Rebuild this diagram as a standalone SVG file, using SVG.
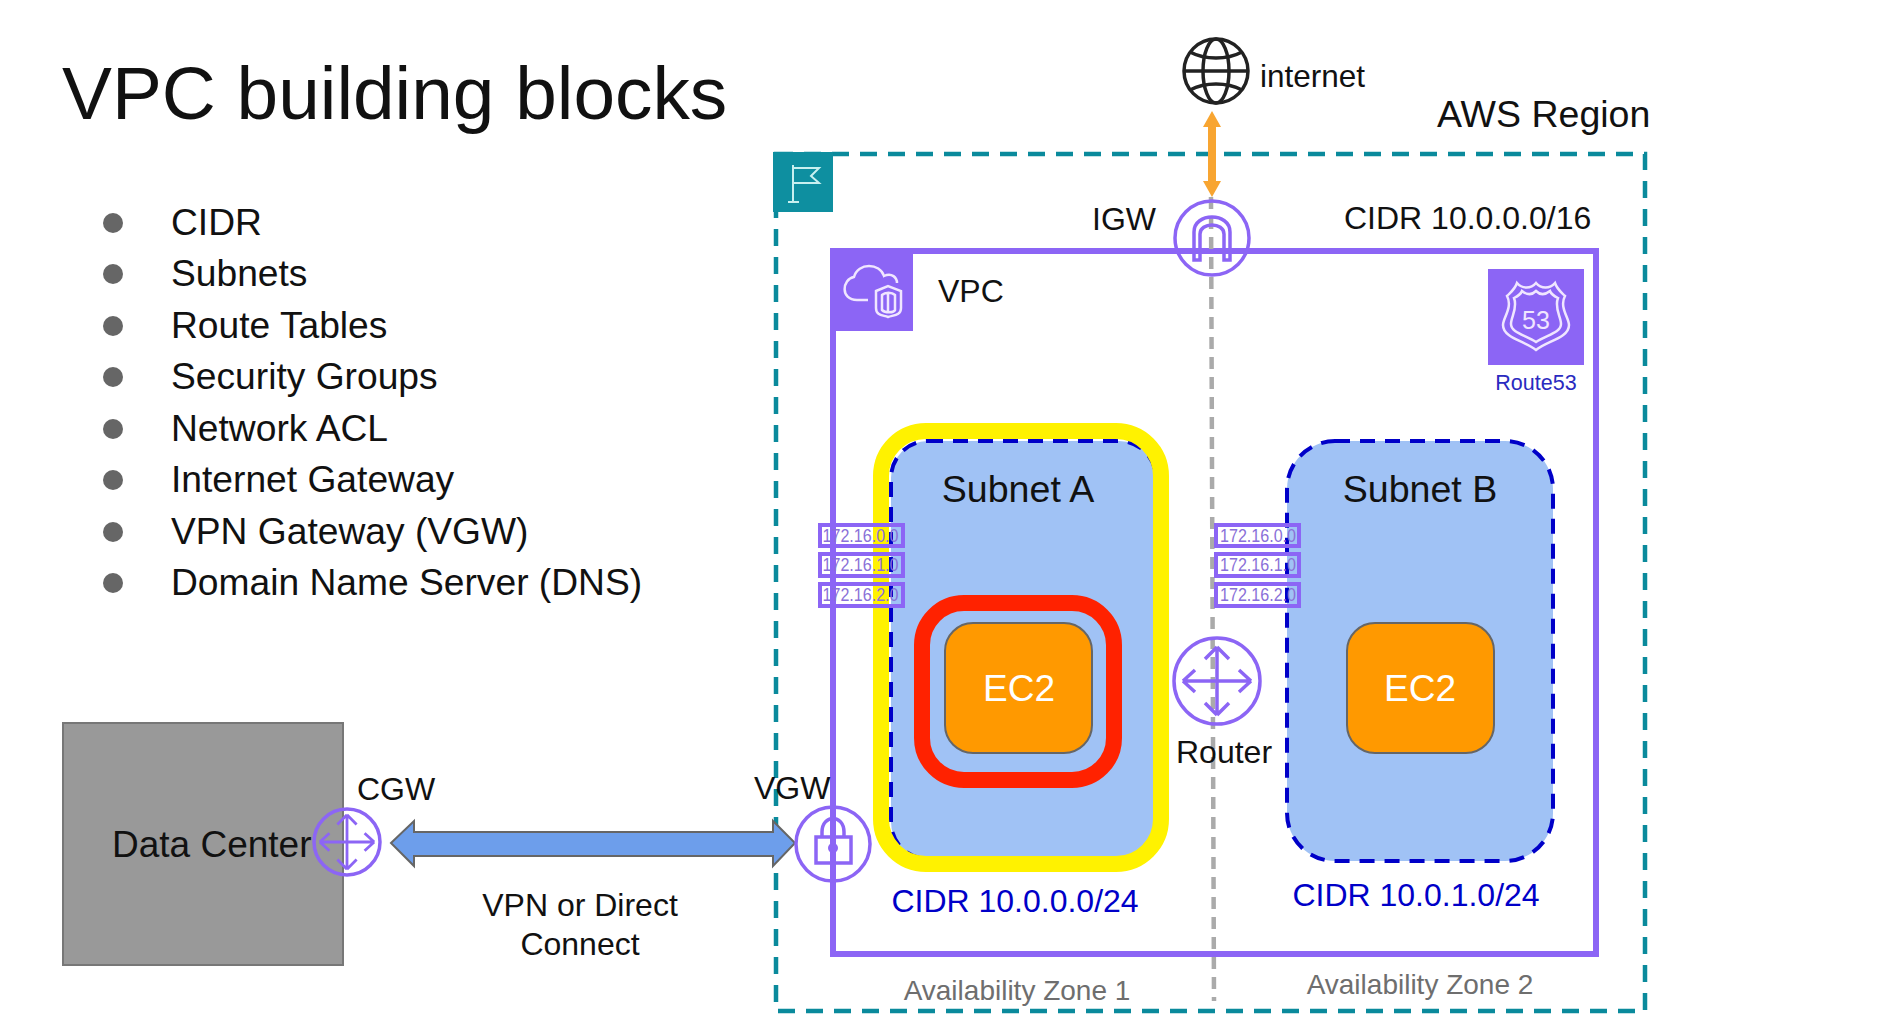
<svg xmlns="http://www.w3.org/2000/svg" width="1900" height="1034" viewBox="0 0 1900 1034">
<style>
text{font-family:"Liberation Sans",Arial,sans-serif;fill:#111}
.b{font-size:37.2px}
.l{font-size:32px}
.cidr{font-size:32px;fill:#0000c8}
.az{font-size:28px;fill:#6e6e6e}
.sub{font-size:37.6px}
.ec{font-size:37px;fill:#fff;text-anchor:middle}
.ip{font-size:19px;fill:#8a70d8;text-anchor:middle}
.ipb{fill:none;stroke:#8c65f5;stroke-width:4}
.ic{fill:none;stroke:#8c65f5;stroke-width:3.5}
.iw{fill:none;stroke:#f0e6ff;stroke-width:2.5}
.ecb{fill:#ff9900;stroke:#666;stroke-width:2}
</style>
<defs>
<g id="arrows4"><path d="M-34 0H34M-34 0l12-11M-34 0l12 11M34 0l-12-11M34 0l-12 11M0-34V34M0-34l-12 12M0-34l12 12M0 34l-12-12M0 34l12-12"/></g>
</defs>
<rect width="1900" height="1034" fill="#fff"/>
<text x="62" y="119" font-size="74.8" style="fill:#111">VPC building blocks</text>
<g id="bullets">
<circle cx="113" cy="223" r="10" fill="#666"/><text class="b" x="171" y="235">CIDR</text>
<circle cx="113" cy="274" r="10" fill="#666"/><text class="b" x="171" y="286">Subnets</text>
<circle cx="113" cy="326" r="10" fill="#666"/><text class="b" x="171" y="338">Route Tables</text>
<circle cx="113" cy="377" r="10" fill="#666"/><text class="b" x="171" y="389">Security Groups</text>
<circle cx="113" cy="429" r="10" fill="#666"/><text class="b" x="171" y="441">Network ACL</text>
<circle cx="113" cy="480" r="10" fill="#666"/><text class="b" x="171" y="492">Internet Gateway</text>
<circle cx="113" cy="532" r="10" fill="#666"/><text class="b" x="171" y="544">VPN Gateway (VGW)</text>
<circle cx="113" cy="583" r="10" fill="#666"/><text class="b" x="171" y="595">Domain Name Server (DNS)</text>
</g>
<g id="region">
<rect x="776" y="154" width="869" height="857" fill="none" stroke="#0a8a9c" stroke-width="4.5" stroke-dasharray="17 11"/>
<rect x="773" y="152" width="60" height="60" fill="#0e8fa0"/>
<path d="M793 165V201M788 202H799M793 168H819L811 176L819 183H793" fill="none" stroke="#c8f0f0" stroke-width="2"/>
<text x="1437" y="127" style="font-size:37.5px">AWS Region</text>
</g>
<g id="vpc">
<rect x="833" y="251" width="763" height="703" fill="none" stroke="#8c65f5" stroke-width="6"/>
<rect x="830" y="249" width="83" height="82" fill="#8c65f5"/>
<path d="M868 300H857C840 300 842 279 854 277C858 262 880 263 884 276C892 272 897 278 897 283" class="iw"/>
<path d="M876 291L888 286L901 291V308C901 316 893 315 888 317C883 315 876 316 876 308Z M882 295V310C885 313 894 313 895 310V295C892 292 885 292 882 295Z M888 293V313" class="iw"/>
<text class="l" x="938" y="302">VPC</text>
<text class="l" x="1344" y="229">CIDR 10.0.0.0/16</text>
</g>
<g id="route53">
<rect x="1488" y="269" width="96" height="96" fill="#8c65f5"/>
<path d="M1507 296C1512 291 1515 289 1517 283C1522 289 1531 289 1536 283C1541 289 1550 289 1555 283C1557 289 1560 291 1565 296C1559 307 1569 318 1569 325C1569 338 1547 341 1536 350C1525 341 1503 338 1503 325C1503 318 1513 307 1507 296Z" class="iw"/>
<path d="M1514 298C1518 296 1521 294 1522 291C1527 295 1532 295 1536 291C1540 295 1545 295 1550 291C1551 294 1554 296 1558 298C1554 308 1561 317 1561 324C1561 333 1546 335 1536 342C1526 335 1511 333 1511 324C1511 317 1518 308 1514 298Z" class="iw"/>
<text x="1536" y="329" font-size="25" text-anchor="middle" style="fill:#f0e6ff">53</text>
<text x="1536" y="390" font-size="21.5" text-anchor="middle" style="fill:#2a2ac0">Route53</text>
</g>
<g id="subnet-a">
<rect x="891" y="441" width="265" height="418" rx="37" fill="#a0c2f5" stroke="#0000c8" stroke-width="4" stroke-dasharray="15 10"/>
<rect x="881" y="431" width="280" height="433" rx="45" fill="none" stroke="#fff200" stroke-width="16"/>
<text class="sub" x="1018" y="502" text-anchor="middle">Subnet A</text>
<text class="cidr" x="1015" y="912" text-anchor="middle">CIDR 10.0.0.0/24</text>
</g>
<g id="sg">
<rect x="922" y="603" width="192" height="177" rx="42" fill="none" stroke="#ff2200" stroke-width="16"/>
</g>
<g id="ec2-a">
<rect class="ecb" x="945" y="623" width="147" height="130" rx="28"/>
<text class="ec" x="1019" y="701">EC2</text>
</g>
<g id="subnet-b">
<rect x="1287" y="441" width="266" height="420" rx="48" fill="#a0c2f5" stroke="#0000c8" stroke-width="4" stroke-dasharray="15 10"/>
<text class="sub" x="1420" y="502" text-anchor="middle">Subnet B</text>
<text class="cidr" x="1416" y="906" text-anchor="middle">CIDR 10.0.1.0/24</text>
</g>
<g id="ec2-b">
<rect class="ecb" x="1347" y="623" width="147" height="130" rx="28"/>
<text class="ec" x="1420" y="701">EC2</text>
</g>
<g id="connectors">
<path d="M1211 197L1214 1001" fill="none" stroke="#aaa" stroke-width="4.5" stroke-dasharray="12 8"/>
<path d="M1212 111L1221 127H1216V181H1221L1212 197L1203 181H1208V127H1203Z" fill="#f8a531"/>
<path d="M391 843L414 821V832H773V821L795 843L773 866V856H414V866Z" fill="#6d9eeb" stroke="#666" stroke-width="2"/>
</g>
<g id="ip-a">
<rect class="ipb" x="820" y="525" width="83" height="21"/><text class="ip" x="860.5" y="542" textLength="76" lengthAdjust="spacingAndGlyphs">172.16.0.0</text>
<rect class="ipb" x="820" y="554" width="83" height="22"/><text class="ip" x="860.5" y="571" textLength="76" lengthAdjust="spacingAndGlyphs">172.16.1.0</text>
<rect class="ipb" x="820" y="584" width="83" height="22"/><text class="ip" x="860.5" y="601" textLength="76" lengthAdjust="spacingAndGlyphs">172.16.2.0</text>
</g>
<g id="ip-b">
<rect class="ipb" x="1216" y="525" width="83" height="21"/><text class="ip" x="1258" y="542" textLength="76" lengthAdjust="spacingAndGlyphs">172.16.0.0</text>
<rect class="ipb" x="1216" y="554" width="83" height="22"/><text class="ip" x="1258" y="571" textLength="76" lengthAdjust="spacingAndGlyphs">172.16.1.0</text>
<rect class="ipb" x="1216" y="584" width="83" height="22"/><text class="ip" x="1258" y="601" textLength="76" lengthAdjust="spacingAndGlyphs">172.16.2.0</text>
</g>
<g id="igw">
<circle class="ic" cx="1212" cy="238" r="37"/>
<path class="ic" d="M1194 260V232C1194 212 1230 212 1230 232V260H1224V234C1224 222 1200 222 1200 234V260Z"/>
<text class="l" x="1092" y="230">IGW</text>
</g>
<g id="internet">
<g fill="none" stroke="#222" stroke-width="3.5">
<circle cx="1216" cy="71" r="32"/>
<ellipse cx="1216" cy="71" rx="13" ry="32"/>
<path d="M1184 71H1248M1190 52C1205 60 1227 60 1242 52M1190 90C1205 82 1227 82 1242 90"/>
</g>
<text x="1260" y="87" font-size="31.5">internet</text>
</g>
<g id="router">
<circle class="ic" cx="1217" cy="681" r="43"/>
<use href="#arrows4" x="1217" y="681" class="ic"/>
<text class="l" x="1176" y="763">Router</text>
</g>
<g id="data-center">
<rect x="63" y="723" width="280" height="242" fill="#999" stroke="#777" stroke-width="2"/>
<text x="112" y="857" font-size="37">Data Center</text>
</g>
<g id="cgw">
<circle class="ic" cx="347" cy="842" r="33"/>
<use href="#arrows4" transform="translate(347 842) scale(.8)" class="ic"/>
<text class="l" x="357" y="800">CGW</text>
</g>
<g id="vgw">
<circle class="ic" cx="833" cy="844" r="37"/>
<path class="ic" d="M816 837H851V863H816ZM822 837V832C822 814 844 814 844 832V837"/>
<circle cx="833" cy="848" r="5" fill="#8c65f5"/>
<text class="l" x="754" y="799">VGW</text>
</g>
<g id="labels">
<text class="l" x="580" y="916" text-anchor="middle">VPN or Direct</text>
<text class="l" x="580" y="955" text-anchor="middle">Connect</text>
<text class="az" x="1017" y="1000" text-anchor="middle">Availability Zone 1</text>
<text class="az" x="1420" y="994" text-anchor="middle">Availability Zone 2</text>
</g>
</svg>
